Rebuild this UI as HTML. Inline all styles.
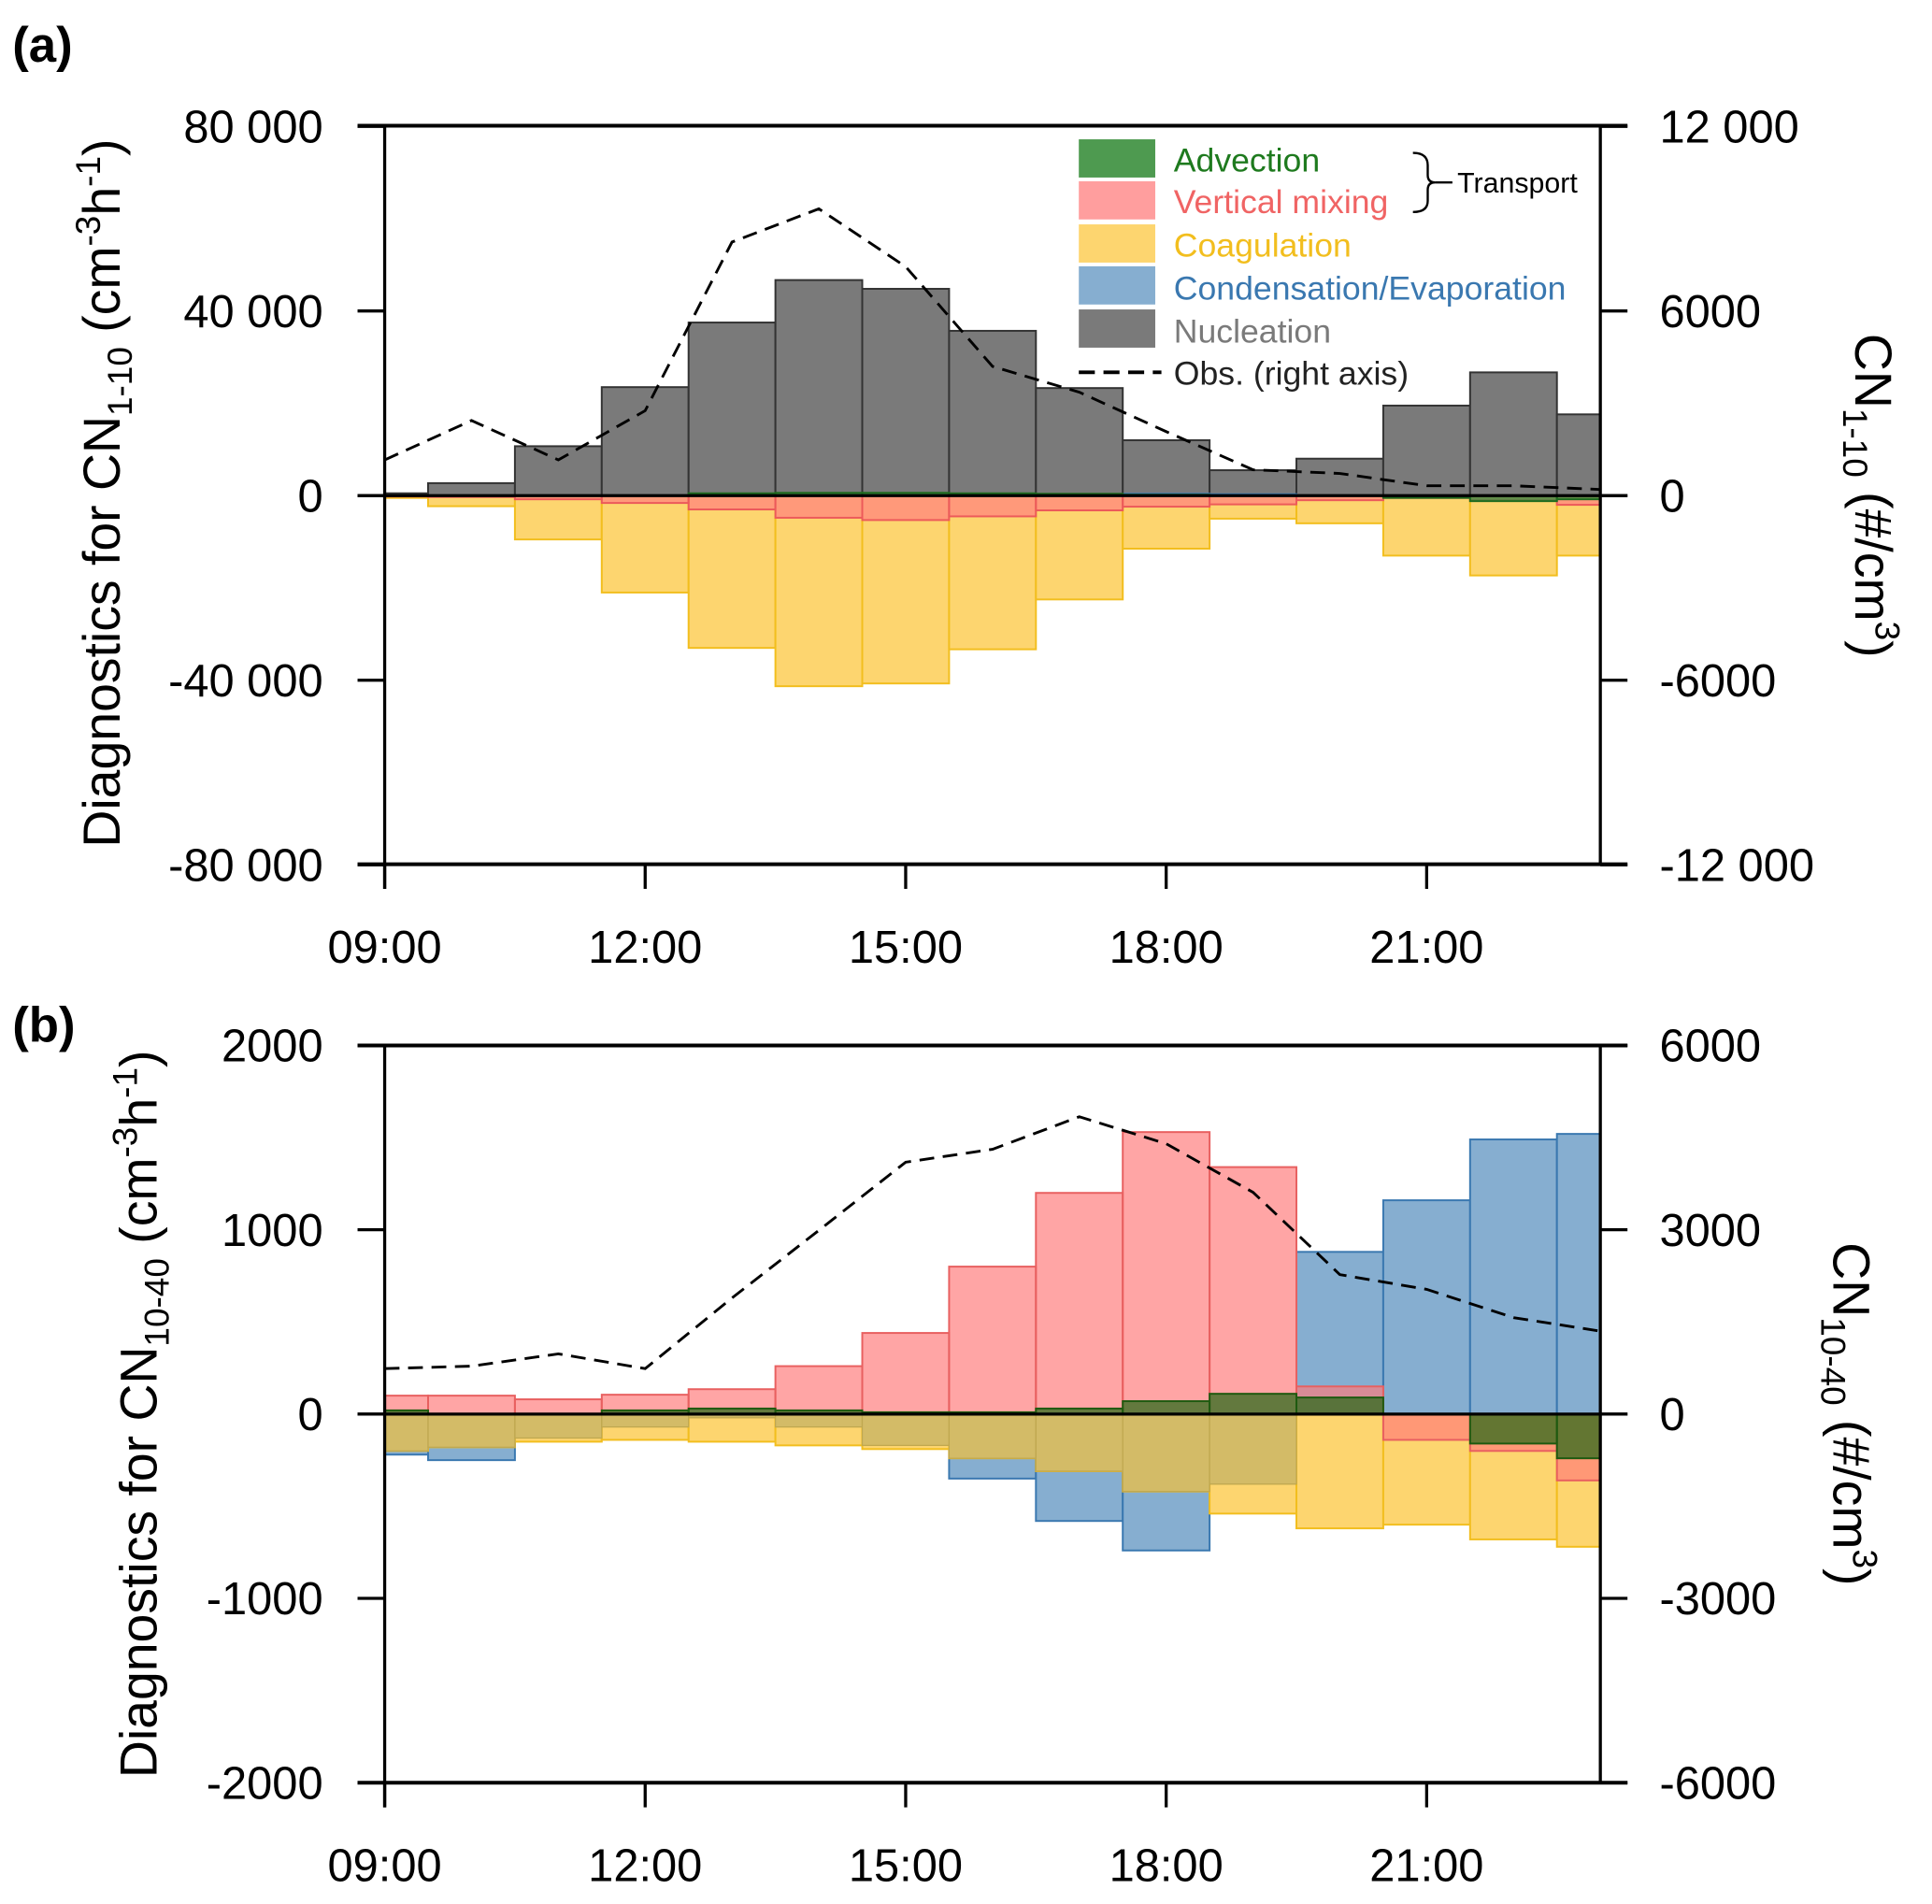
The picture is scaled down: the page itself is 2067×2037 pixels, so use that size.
<!DOCTYPE html>
<html><head><meta charset="utf-8"><style>
html,body{margin:0;padding:0;background:#fff;}
svg{display:block;font-family:"Liberation Sans",Arial,sans-serif;}
</style></head><body>
<svg id="chart" width="2067" height="2037" viewBox="0 0 1567 1544.4" preserveAspectRatio="none" xmlns="http://www.w3.org/2000/svg"></svg>
<script>
const hours = [9,10,11,12,13,14,15,16,17,18,19,20,21,22,23];
const tickHours = [9,12,15,18,21];
const tickLabelsX = ["09:00","12:00","15:00","18:00","21:00"];
// Panel a (cm-3 h-1)
const aNucleation = [500,2700,10700,23500,37500,46700,44800,35700,23300,12000,5500,8000,19500,26700,17600];
const aCoagulation = [-500,-2300,-9500,-21000,-33000,-41300,-40700,-33300,-22500,-11500,-5000,-6000,-13000,-17300,-13000];
const aMixing = [-200,-300,-800,-1600,-3000,-4800,-5300,-4500,-3200,-2400,-1900,-1000,-500,-1000,-2000];
const aAdvection = [0,0,0,0,500,600,600,500,400,200,0,0,-500,-1200,-800];
const aCondensation = [0,0,0,0,0,0,0,0,0,400,300,0,0,0,0];
const aObs = [1160,2440,1160,2760,8240,9320,7440,4200,3360,2080,840,720,320,320,200];
const aLeftTicks = [80000,40000,0,-40000,-80000];
const aLeftLabels = ["80 000","40 000","0","-40 000","-80 000"];
const aRightTicks = [12000,6000,0,-6000,-12000];
const aRightLabels = ["12 000","6000","0","-6000","-12 000"];
// Panel b
const bMixing = [100,100,80,105,135,260,440,800,1200,1530,1340,150,-140,-200,-360];
const bCondensation = [-220,-250,-130,-70,-20,-70,-170,-350,-580,-740,-380,880,1160,1490,1520];
const bCoagulation = [-200,-180,-150,-140,-150,-170,-190,-240,-310,-420,-540,-620,-600,-680,-720];
const bAdvection = [20,0,0,20,30,20,10,10,30,70,110,90,0,-160,-240];
const bObs = [740,780,980,740,1890,2990,4100,4310,4840,4400,3610,2270,2030,1570,1350];
const bLeftTicks = [2000,1000,0,-1000,-2000];
const bLeftLabels = ["2000","1000","0","-1000","-2000"];
const bRightTicks = [6000,3000,0,-3000,-6000];
const bRightLabels = ["6000","3000","0","-3000","-6000"];

const NS="http://www.w3.org/2000/svg";
const svg=document.getElementById('chart');
function el(tag,attrs,parent){const e=document.createElementNS(NS,tag);for(const k in attrs)e.setAttribute(k,attrs[k]);(parent||svg).appendChild(e);return e;}
const X0=312,X1=1298;
function xs(h){return X0+(h-9)*(X1-X0)/14;}
function barEdges(i){const h=hours[i];let l=xs(Math.max(9,h-0.5)),r=xs(Math.min(23,h+0.5));return [l,r];}

function panel(cfg){
  const g=el('g',{});
  
  
  const ys=v=>cfg.zero - v*(cfg.bottom-cfg.top)/2/cfg.lmax;
  const yr=v=>cfg.zero - v*(cfg.bottom-cfg.top)/2/cfg.rmax;
  cfg.series.forEach(s=>{
    const sg=el('g',{},g);
    
    
    s.data.forEach((v,i)=>{
      if(v===0)return;
      const [l,r]=barEdges(i);
      const y=Math.min(ys(v),ys(0)),hgt=Math.abs(ys(v)-ys(0));
      const b=el('rect',{x:l,y:y,width:r-l,height:hgt,fill:s.fill,'fill-opacity':s.op,stroke:s.stroke,'stroke-width':s.sw||1.5},sg);
      
      
    });
  });
  const pts=cfg.obs.map((v,i)=>xs(hours[i])+','+yr(v)).join(' ');
  const ln=el('polyline',{points:pts,fill:'none',stroke:'#000','stroke-width':2.2,'stroke-dasharray':'12,7'},g);
  
  
  el('line',{x1:290,x2:1320,y1:cfg.top,y2:cfg.top,stroke:'#000','stroke-width':3},g);
  el('line',{x1:290,x2:1320,y1:cfg.bottom,y2:cfg.bottom,stroke:'#000','stroke-width':3},g);
  el('line',{x1:290,x2:1320,y1:cfg.zero,y2:cfg.zero,stroke:'#000','stroke-width':2.5},g);
  el('line',{x1:X0,x2:X0,y1:cfg.top,y2:cfg.bottom+20,stroke:'#000','stroke-width':2.5},g);
  el('line',{x1:X1,x2:X1,y1:cfg.top,y2:cfg.bottom,stroke:'#000','stroke-width':2.5},g);
  cfg.lt.forEach((v,i)=>{
    el('line',{x1:290,x2:X0,y1:ys(v),y2:ys(v),stroke:'#000','stroke-width':2.5},g);
    const t=el('text',{x:262,y:ys(v)+13,'font-size':37,'text-anchor':'end'},g);t.textContent=cfg.ll[i];
    
    
  });
  cfg.rt.forEach((v,i)=>{
    el('line',{x1:X1,x2:1320,y1:yr(v),y2:yr(v),stroke:'#000','stroke-width':2.5},g);
    const t=el('text',{x:1346,y:yr(v)+13,'font-size':37},g);t.textContent=cfg.rl[i];
    
    
  });
  tickHours.forEach((h,i)=>{
    el('line',{x1:xs(h),x2:xs(h),y1:cfg.bottom,y2:cfg.bottom+20,stroke:'#000','stroke-width':2.5},g);
    const t=el('text',{x:xs(h),y:cfg.bottom+80,'font-size':37,'text-anchor':'middle'},g);t.textContent=tickLabelsX[i];
    
    
  });
}
panel({name:'panel-a',top:102,bottom:701,zero:402,lmax:80000,rmax:12000,obs:aObs,lt:aLeftTicks,ll:aLeftLabels,rt:aRightTicks,rl:aRightLabels,
 series:[
  {name:'nucleation',data:aNucleation,fill:'#7a7a7a',op:1,stroke:'#333'},
  {name:'coagulation',data:aCoagulation,fill:'#fdd56f',op:1,stroke:'#f2be1e'},
  {name:'vertical-mixing',data:aMixing,fill:'#ff7f7f',op:0.7,stroke:'#ec5a5a'},
  {name:'condensation',data:aCondensation,fill:'#6f9dc8',op:0.7,stroke:'#3a78b0'},
  {name:'advection',data:aAdvection,fill:'#3b8a3f',op:0.8,stroke:'#1f6b1f'}]});
// overlap of coagulation and condensation (both negative) in panel b
const bOverlap = bCoagulation.map((c,i)=> (c<0 && bCondensation[i]<0) ? Math.max(c,bCondensation[i]) : 0);
panel({name:'panel-b',top:848,bottom:1446,zero:1147,lmax:2000,rmax:6000,obs:bObs,lt:bLeftTicks,ll:bLeftLabels,rt:bRightTicks,rl:bRightLabels,
 series:[
  {name:'condensation',data:bCondensation,fill:'#86aed0',op:1,stroke:'#3a78b0'},
  {name:'coagulation',data:bCoagulation,fill:'#fdd56f',op:1,stroke:'#f2be1e'},
  {name:'coag-cond-overlap',data:bOverlap,fill:'#d3bb67',op:1,stroke:'#c0a850',sw:1},
  {name:'vertical-mixing',data:bMixing,fill:'#ff7a7a',op:0.68,stroke:'#e86060'},
  {name:'advection',data:bAdvection,fill:'#2f6b1c',op:0.75,stroke:'#1f5a10'}]});
</script>
<svg style="position:absolute;left:0;top:0" width="2067" height="2037" viewBox="0 0 1567 1544.4" preserveAspectRatio="none" xmlns="http://www.w3.org/2000/svg" font-family="Liberation Sans, Arial, sans-serif">
<text x="10" y="50" font-size="40" font-weight="bold">(a)</text>
<text x="10" y="845" font-size="40" font-weight="bold">(b)</text>
<text transform="translate(97,400) rotate(-90)" text-anchor="middle" font-size="42">Diagnostics for CN<tspan font-size="28" dy="10">1-10</tspan><tspan dy="-10"> (cm</tspan><tspan font-size="28" dy="-16">-3</tspan><tspan dy="16">h</tspan><tspan font-size="28" dy="-16">-1</tspan><tspan dy="16">)</tspan></text>
<text transform="translate(1505,402) rotate(90)" text-anchor="middle" font-size="42">CN<tspan font-size="28" dy="10">1-10</tspan><tspan dy="-10"> (#/cm</tspan><tspan font-size="28" dy="-16">3</tspan><tspan dy="16">)</tspan></text>
<text transform="translate(127,1147) rotate(-90)" text-anchor="middle" font-size="42">Diagnostics for CN<tspan font-size="28" dy="10">10-40</tspan><tspan dy="-10"> (cm</tspan><tspan font-size="28" dy="-16">-3</tspan><tspan dy="16">h</tspan><tspan font-size="28" dy="-16">-1</tspan><tspan dy="16">)</tspan></text>
<text transform="translate(1487,1147) rotate(90)" text-anchor="middle" font-size="42">CN<tspan font-size="28" dy="10">10-40</tspan><tspan dy="-10"> (#/cm</tspan><tspan font-size="28" dy="-16">3</tspan><tspan dy="16">)</tspan></text>
<g font-size="27">
<rect x="875" y="113" width="62" height="31" fill="#4e9a50"/>
<text x="952" y="139" fill="#1e7a1e">Advection</text>
<rect x="875" y="147" width="62" height="31" fill="#ff9e9e"/>
<text x="952" y="173" fill="#f06464">Vertical mixing</text>
<rect x="875" y="182" width="62" height="31" fill="#fdd56f"/>
<text x="952" y="208" fill="#f2be1e">Coagulation</text>
<rect x="875" y="216" width="62" height="31" fill="#86aed0"/>
<text x="952" y="243" fill="#3a78b0">Condensation/Evaporation</text>
<rect x="875" y="251" width="62" height="31" fill="#7a7a7a"/>
<text x="952" y="278" fill="#7a7a7a">Nucleation</text>
<line x1="875" x2="942" y1="302" y2="302" stroke="#000" stroke-width="3" stroke-dasharray="13,7"/>
<text x="952" y="312" fill="#222">Obs. (right axis)</text>
<path d="M1146,124 Q1158,124 1158,134 L1158,142 Q1158,148 1164,148 Q1158,148 1158,154 L1158,163 Q1158,172 1146,172" fill="none" stroke="#000" stroke-width="1.8"/>
<line x1="1164" x2="1178" y1="148" y2="148" stroke="#000" stroke-width="1.8"/>
<text x="1182" y="156" font-size="23">Transport</text>
</g>
</svg>
</body></html>
